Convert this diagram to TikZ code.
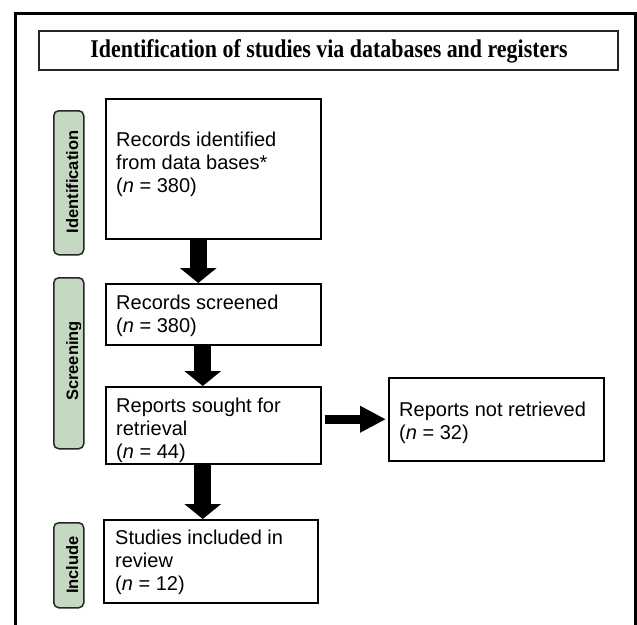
\documentclass[tikz,border=0pt]{standalone}
\usepackage{fontspec}
\setmainfont{Liberation Sans}
\newfontfamily\titlefont{Liberation Serif}
\usetikzlibrary{arrows.meta,calc}
\definecolor{labelgreen}{RGB}{197,216,193}
\begin{document}
\begin{tikzpicture}[x=1pt,y=-1pt,
  boxnode/.style={draw=black, line width=1.5pt, fill=white, rectangle, inner sep=0pt, anchor=north west},
  labbox/.style={draw=black!85, line width=1.5pt, fill=labelgreen, rounded corners=5pt, inner sep=0pt, anchor=north west, minimum width=30pt},
  labtxt/.style={rotate=90, anchor=base, inner sep=0pt, font=\bfseries\fontsize{16.5}{19}\selectfont},
  txt/.style={anchor=north west, inner sep=0pt, align=left, font=\fontsize{20}{23}\selectfont},
  bigarrow/.style={line width=17pt, -{Triangle[width=36pt,length=15pt]}},
  sidearrow/.style={line width=9pt, -{Triangle[width=25pt,length=26pt]}}]
\useasboundingbox (0,0) rectangle (637,624);
\fill[white] (0,0) rectangle (637,624);
% outer frame
\draw[line width=3.2pt] (15.3,626) -- (15.3,13.5) -- (636,13.5) -- (636,626);
% title
\node[draw=black!85, line width=2pt, minimum width=579pt, minimum height=39pt, inner sep=0pt, anchor=north west] (title) at (38,30) {};
\node[anchor=base, inner sep=0pt, font=\titlefont\bfseries\fontsize{25.5}{28}\selectfont] (titletxt) at (329,57.5) {\scalebox{0.86}[1]{Identification of studies via databases and registers}};
% phase labels
\node[labbox, minimum height=144pt] (l1) at (53,110) {};
\node[labtxt] (l1t) at (78,182) {Identification};
\node[labbox, minimum height=171pt] (l2) at (53,277) {};
\begin{scope}
\clip (50,277) rectangle (80.8,448);
\node[labtxt] (l2t) at (78,361) {Screening};
\end{scope}
\node[labbox, minimum height=85pt] (l3) at (53,522) {};
\node[labtxt] (l3t) at (78,565) {Include};
% boxes
\node[boxnode, minimum width=215pt, minimum height=140pt] (b1) at (105,98) {};
\node[txt] (t1) at (116,131.5) {Records identified\\from data bases*\\(\textit{n} = 380)};
\node[boxnode, minimum width=215pt, minimum height=61pt] (b2) at (105,283) {};
\node[txt] (t2) at (116,294.5) {Records screened\\(\textit{n} = 380)};
\node[boxnode, minimum width=215pt, minimum height=77pt] (b3) at (105,386) {};
\begin{scope}
\clip (105,386) rectangle (320,462);
\node[txt] (t3) at (116,397.5) {Reports sought for\\retrieval\\(\textit{n} = 44)};
\end{scope}
\draw[line width=1.5pt] (b3.south west) -- (b3.south east);
\node[boxnode, minimum width=215pt, minimum height=83pt] (b4) at (388,377) {};
\node[txt] (t4) at (399,401.5) {Reports not retrieved\\(\textit{n} = 32)};
\node[boxnode, minimum width=214pt, minimum height=83pt] (b5) at (103,519) {};
\node[txt] (t5) at (115,529.5) {Studies included in\\review\\(\textit{n} = 12)};
% arrows
\draw[bigarrow] ($(b1.south)+(-15,0)$) coordinate (a1s) -- (a1s |- b2.north);
\draw[bigarrow] ($(b2.south)+(-10.5,0)$) coordinate (a2s) -- (a2s |- b3.north);
\draw[bigarrow] ($(b3.south)+(-10.5,0)$) coordinate (a3s) -- (a3s |- b5.north);
\draw[sidearrow] ($(b3.east |- b4.west)+(3,0)$) -- ($(b4.west)+(-2,0)$);
\end{tikzpicture}
\end{document}
